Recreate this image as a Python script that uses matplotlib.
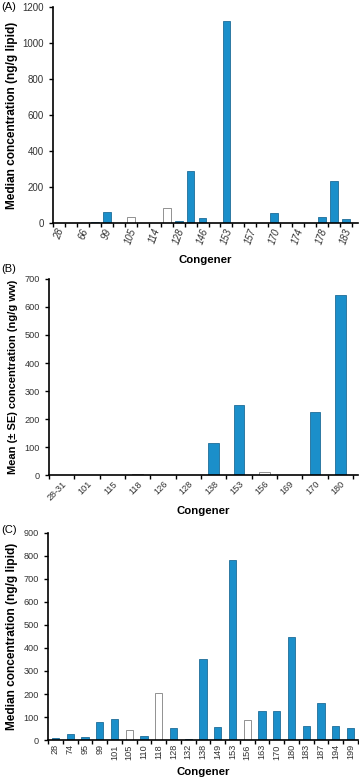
import matplotlib
matplotlib.use("Agg")
import matplotlib.pyplot as plt
import numpy as np

plt.rcParams['font.family'] = ['Liberation Sans', 'DejaVu Sans']

# Panel A: median concentration (ng/g lipid); every second congener labelled
congeners_a = ['28', '52', '66', '74', '99', '101', '105', '110', '114', '118',
               '128', '138', '146', '149', '153', '156', '157', '167', '170',
               '172', '174', '177', '178', '180', '183']
values_a = [0, 0, 0, 3, 60, 0, 30, 0, 0, 80,
            12, 290, 28, 0, 1120, 0, 0, 0, 52,
            0, 0, 0, 30, 230, 20]
open_a = ['105', '118', '156']

# Panel B: mean (+/- SE) concentration (ng/g ww)
congeners_b = ['28-31', '101', '115', '118', '126', '128', '138', '153',
               '156', '169', '170', '180']
values_b = [0, 0, 0, 6, 0, 2, 115, 250, 10, 0, 225, 643]
open_b = ['118', '156']

# Panel C: median concentration (ng/g lipid)
congeners_c = ['28', '74', '95', '99', '101', '105', '110', '118', '128', '132',
               '138', '149', '153', '156', '163', '170', '180', '183', '187',
               '194', '199']
values_c = [10, 27, 15, 80, 90, 42, 18, 205, 53, 3,
            350, 57, 783, 87, 128, 127, 447, 63, 162, 63, 53]
open_c = ['105', '118', '156']

BLUE = '#1b8fca'
BLUE_EDGE = '#1f6d98'
OPEN_EDGE = '#808080'


def draw_panel(ax, cats, vals, open_set, width, ylim, ystep, ylabel,
               rot, label_x, show_every=1, xmax=None, label_fs=6.6,
               ylabel_fs=8.6, xpad=2):
    n = len(cats)
    x = np.arange(n)
    face = ['white' if c in open_set else BLUE for c in cats]
    edge = [OPEN_EDGE if c in open_set else BLUE_EDGE for c in cats]
    ax.bar(x, vals, width=width, color=face, edgecolor=edge, linewidth=0.6)

    ax.set_xlim(-0.5, xmax if xmax is not None else n - 0.5)
    ax.set_ylim(*ylim)
    ax.set_yticks(np.arange(ylim[0], ylim[1] + 1, ystep))

    # tick marks at category boundaries, labels at category centres
    ax.set_xticks(np.arange(n + 1) - 0.5)
    ax.set_xticklabels([])
    ax.set_xticks(x, minor=True)
    labels = [c if i % show_every == 0 else '' for i, c in enumerate(cats)]
    if rot == 90:
        ax.set_xticklabels(labels, minor=True, rotation=90, ha='center',
                           fontsize=label_fs, color='#333333')
    elif rot == 45:
        ax.set_xticklabels(labels, minor=True, rotation=45, ha='right',
                           rotation_mode='anchor', fontsize=label_fs,
                           color='#333333')
    else:
        ax.set_xticklabels(labels, minor=True, rotation=rot, ha='center',
                           fontsize=label_fs, color='#333333', style='italic')
    ax.tick_params(axis='x', which='minor', length=0, pad=3)
    ax.tick_params(axis='x', which='major', length=3, width=1, direction='out')
    ax.tick_params(axis='y', length=3, width=1, labelsize=label_fs,
                   labelcolor='#333333')

    ax.spines['top'].set_visible(False)
    ax.spines['right'].set_visible(False)
    ax.spines['left'].set_linewidth(1.2)
    ax.spines['bottom'].set_linewidth(1.2)

    ax.set_ylabel(ylabel, fontsize=ylabel_fs, fontweight='bold')
    ax.yaxis.set_label_coords(label_x, 0.5)
    ax.set_xlabel('Congener', fontsize=8.2, fontweight='bold', labelpad=xpad)


fig = plt.figure(figsize=(3.59, 7.79), dpi=100)
fig.patch.set_facecolor('white')

ax_a = fig.add_axes([0.148, 0.714, 0.849, 0.277])
ax_b = fig.add_axes([0.137, 0.390, 0.860, 0.252])
ax_c = fig.add_axes([0.134, 0.050, 0.863, 0.266])

draw_panel(ax_a, congeners_a, values_a, open_a, 0.65, (0, 1200), 200,
           'Median concentration (ng/g lipid)', 70, -0.115, show_every=2,
           xmax=25.0, label_fs=7, xpad=7)
draw_panel(ax_b, congeners_b, values_b, open_b, 0.42, (0, 700), 100,
           'Mean (± SE) concentration (ng/g ww)', 45, -0.100, xmax=11.7,
           ylabel_fs=8.0, xpad=3)
draw_panel(ax_c, congeners_c, values_c, open_c, 0.48, (0, 900), 100,
           'Median concentration (ng/g lipid)', 90, -0.097, xpad=5)

fig.text(0.003, 0.991, '(A)', fontsize=8, va='center', ha='left')
fig.text(0.003, 0.655, '(B)', fontsize=8, va='center', ha='left')
fig.text(0.003, 0.319, '(C)', fontsize=8, va='center', ha='left')

fig.savefig('out.png', dpi=100, facecolor='white')
plt.close(fig)
